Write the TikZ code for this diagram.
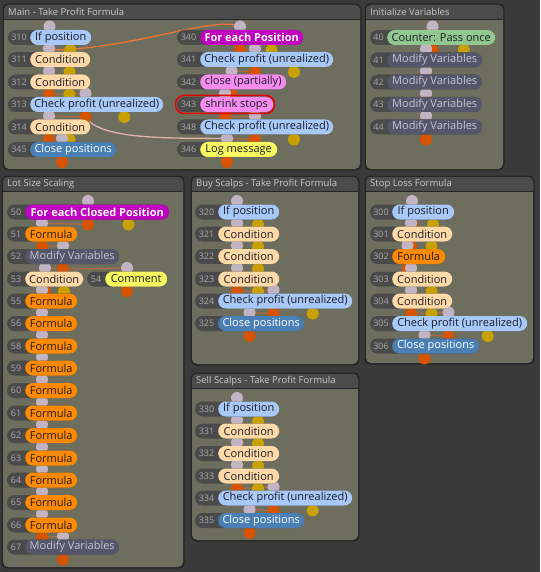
\documentclass[tikz,border=0pt]{standalone}
\usepackage{fontspec}
\setmainfont{Open Sans}
\pgfdeclarelayer{panel}
\pgfdeclarelayer{lines}
\pgfdeclarelayer{dots}
\pgfdeclarelayer{nump}
\pgfsetlayers{panel,lines,dots,nump,main}
\definecolor{bgc}{HTML}{3A3A3A}
\definecolor{panelc}{HTML}{6E6E5E}
\definecolor{headc}{HTML}{4B4B4B}
\definecolor{edgec}{HTML}{262626}
\definecolor{titlec}{HTML}{C8C8C8}
\definecolor{numfill}{HTML}{4A4A4A}
\definecolor{numtc}{HTML}{A8A8A8}
\definecolor{txtdark}{HTML}{1C1C26}
\definecolor{pblue}{HTML}{A8C8F8}
\definecolor{ppeach}{HTML}{FFD9A8}
\definecolor{pclose}{HTML}{4A7FB5}
\definecolor{pmag}{HTML}{C000C0}
\definecolor{ppink}{HTML}{F58CF0}
\definecolor{pyel}{HTML}{F8F860}
\definecolor{pgreen}{HTML}{90C890}
\definecolor{pslate}{HTML}{56566A}
\definecolor{slatetxt}{HTML}{C4C4D4}
\definecolor{porange}{HTML}{FF8A00}
\definecolor{inc}{HTML}{C2B4C4}
\definecolor{outc}{HTML}{D65400}
\definecolor{yelc}{HTML}{C8A000}
\definecolor{linkc}{HTML}{B06A44}
\definecolor{orangeline}{HTML}{EC7436}
\definecolor{paleline}{HTML}{E2B2A8}
\tikzset{
  pill/.style={rounded corners=7.5pt, minimum height=15pt, inner xsep=0pt, inner ysep=0pt,
    font=\fontsize{11}{12}\selectfont, text=txtdark, anchor=west},
  cblue/.style={fill=pblue},
  cpeach/.style={fill=ppeach},
  cclose/.style={fill=pclose, text=white},
  cmag/.style={fill=pmag, text=white, font=\fontsize{11}{12}\selectfont\bfseries},
  cpink/.style={fill=ppink},
  cyel/.style={fill=pyel},
  cgreen/.style={fill=pgreen},
  cslate/.style={fill=pslate, text=slatetxt},
  corange/.style={fill=porange},
  numtxt/.style={font=\fontsize{9}{10}\selectfont, text=numtc, inner sep=0pt},
  paneltitle/.style={font=\fontsize{9.5}{10}\selectfont, text=titlec, anchor=west, inner sep=0pt},
  link/.style={draw=linkc, line width=1.2pt},
}
% block: id, xL, xN, xR, y, number, style, text, outputs
\newcommand\blk[9]{%
  \pgfmathsetmacro\bc{(#2+#4)/2}%
  \pgfmathsetmacro\byl{#2+0.75*(#4-#2)}%
  \pgfmathsetmacro\bw{#4-#3}%
  \pgfmathsetmacro\bnx{(#2+#3)/2}%
  \coordinate (#1-i) at (\bc,#5-11);
  \coordinate (#1-o) at (\bc,#5+12.5);
  \coordinate (#1-y) at (\byl,#5+12.5);
  \begin{pgfonlayer}{dots}
    \fill[outc] (#1-o) circle (6pt);
    \ifnum#9>1 \fill[yelc] (#1-y) circle (6pt);\fi
    \fill[inc] (#1-i) circle (6pt);
  \end{pgfonlayer}
  \begin{pgfonlayer}{nump}
    \fill[numfill, rounded corners=7.5pt] (#2,#5-7.5) rectangle (#4,#5+7.5);
    \node[numtxt] (#1-n) at (\bnx,#5) {#6};
  \end{pgfonlayer}
  \node[pill,#7,minimum width=\bw pt] (#1) at (#3,#5) {#8};
}
% panel: x1,y1,x2,y2,title
\newcommand\panelbox[5]{%
  \begin{pgfonlayer}{panel}
    \fill[edgec, rounded corners=6pt] (#1-1.5,#2-1.5) rectangle (#3+1.5,#4+1.5);
    \fill[panelc, rounded corners=5pt] (#1,#2) rectangle (#3,#4);
    \fill[headc, rounded corners=5pt] (#1,#2) rectangle (#3,#2+14);
    \fill[headc] (#1,#2+7) rectangle (#3,#2+14);
    \draw[edgec, line width=0.8pt] (#1,#2+14) -- (#3,#2+14);
    \node[paneltitle] at (#1+4,#2+7.3) {#5};
  \end{pgfonlayer}
}
\begin{document}
\begin{tikzpicture}[x=1pt,y=-1pt]
\begin{pgfonlayer}{panel}
\fill[bgc] (0,0) rectangle (540,572);
\end{pgfonlayer}
\useasboundingbox (0,0) rectangle (540,572);

\panelbox{4}{5}{360}{169}{Main - Take Profit Formula}
\panelbox{366}{5}{503}{169}{Initialize Variables}
\panelbox{3}{177}{183}{567}{Lot Size Scaling}
\panelbox{192}{177}{358}{364}{Buy Scalps - Take Profit Formula}
\panelbox{366}{177}{533}{363}{Stop Loss Formula}
\panelbox{192}{374}{358}{540}{Sell Scalps - Take Profit Formula}

% Main - left column
\blk{b310}{8}{30}{91}{37.5}{310}{cblue}{If position}{2}
\blk{b311}{8}{30}{90}{59.5}{311}{cpeach}{Condition}{2}
\blk{b312}{8}{30}{90}{82}{312}{cpeach}{Condition}{2}
\blk{b313}{8}{30}{163}{104.5}{313}{cblue}{Check profit (unrealized)}{2}
\blk{b314}{8}{30}{90}{127}{314}{cpeach}{Condition}{2}
\blk{b345}{8}{30}{116}{149.5}{345}{cclose}{Close positions}{1}
% Main - right column
\blk{b340}{177}{200}{303}{37.5}{340}{cmag}{For each Position}{2}
\blk{b341}{177}{200}{333}{59.5}{341}{cblue}{Check profit (unrealized)}{2}
\blk{b342}{177}{200}{286}{82}{342}{cpink}{close (partially)}{1}
\blk{b343}{177}{200}{273}{104.5}{343}{cpink}{shrink stops}{1}
\blk{b348}{177}{200}{333}{127}{348}{cblue}{Check profit (unrealized)}{2}
\blk{b346}{177}{200}{277}{149.5}{346}{cyel}{Log message}{1}
\draw[red!90!black, line width=1.5pt, rounded corners=8.5pt] (175.5,95.5) rectangle (274.5,113.5);

% Initialize Variables
\blk{b40}{370}{387}{495}{37.5}{40}{cgreen}{Counter: Pass once}{2}
\blk{b41}{370}{387}{482}{60}{41}{cslate}{Modify Variables}{1}
\blk{b42}{370}{387}{482}{82}{42}{cslate}{Modify Variables}{1}
\blk{b43}{370}{387}{482}{104.5}{43}{cslate}{Modify Variables}{1}
\blk{b44}{370}{387}{482}{127}{44}{cslate}{Modify Variables}{1}

% Lot Size Scaling
\blk{b50}{7}{25}{169}{212}{50}{cmag}{For each Closed Position}{2}
\blk{b51}{7}{25}{77}{234}{51}{corange}{Formula}{1}
\blk{b52}{7}{25}{119}{256.5}{52}{cslate}{Modify Variables}{1}
\blk{b53}{7}{25}{83}{279}{53}{cpeach}{Condition}{2}
\blk{b54}{87}{105}{167}{279}{54}{cyel}{Comment}{1}
\blk{b55}{7}{25}{77}{301}{55}{corange}{Formula}{1}
\blk{b56}{7}{25}{77}{323.5}{56}{corange}{Formula}{1}
\blk{b58}{7}{25}{77}{346}{58}{corange}{Formula}{1}
\blk{b59}{7}{25}{77}{368}{59}{corange}{Formula}{1}
\blk{b60}{7}{25}{77}{390.5}{60}{corange}{Formula}{1}
\blk{b61}{7}{25}{77}{413}{61}{corange}{Formula}{1}
\blk{b62}{7}{25}{77}{435.5}{62}{corange}{Formula}{1}
\blk{b63}{7}{25}{77}{458}{63}{corange}{Formula}{1}
\blk{b64}{7}{25}{77}{480}{64}{corange}{Formula}{1}
\blk{b65}{7}{25}{77}{502.5}{65}{corange}{Formula}{1}
\blk{b66}{7}{25}{77}{525}{66}{corange}{Formula}{1}
\blk{b67}{7}{25}{119}{547}{67}{cslate}{Modify Variables}{1}

% Buy Scalps
\blk{b320}{195}{218}{279}{212}{320}{cblue}{If position}{2}
\blk{b321}{195}{218}{279}{234}{321}{cpeach}{Condition}{2}
\blk{b322}{195}{218}{279}{256.5}{322}{cpeach}{Condition}{2}
\blk{b323}{195}{218}{279}{279}{323}{cpeach}{Condition}{2}
\blk{b324}{195}{218}{352}{301}{324}{cblue}{Check profit (unrealized)}{2}
\blk{b325}{195}{218}{304}{323.5}{325}{cclose}{Close positions}{1}

% Stop Loss
\blk{b300}{370}{392}{454}{212}{300}{cblue}{If position}{2}
\blk{b301}{370}{392}{452}{234}{301}{cpeach}{Condition}{2}
\blk{b302}{370}{392}{445}{256.5}{302}{corange}{Formula}{1}
\blk{b303}{370}{392}{452}{279}{303}{cpeach}{Condition}{2}
\blk{b304}{370}{392}{452}{301}{304}{cpeach}{Condition}{2}
\blk{b305}{370}{392}{527}{323.5}{305}{cblue}{Check profit (unrealized)}{2}
\blk{b306}{370}{392}{479}{346}{306}{cclose}{Close positions}{1}

% Sell Scalps
\blk{b330}{195}{218}{279}{409}{330}{cblue}{If position}{2}
\blk{b331}{195}{218}{279}{431}{331}{cpeach}{Condition}{2}
\blk{b332}{195}{218}{279}{453.5}{332}{cpeach}{Condition}{2}
\blk{b333}{195}{218}{279}{476}{333}{cpeach}{Condition}{2}
\blk{b334}{195}{218}{352}{498}{334}{cblue}{Check profit (unrealized)}{2}
\blk{b335}{195}{218}{304}{520.5}{335}{cclose}{Close positions}{1}

% connectors
\begin{pgfonlayer}{lines}
\foreach \a/\b in {b310/b311,b311/b312,b312/b313,b313/b314,b314/b345,
  b340/b341,b341/b342,b342/b343,b343/b348,b348/b346,
  b40/b41,b41/b42,b42/b43,b43/b44,
  b50/b51,b51/b52,b52/b53,b52/b54,b53/b55,b55/b56,b56/b58,b58/b59,b59/b60,
  b60/b61,b61/b62,b62/b63,b63/b64,b64/b65,b65/b66,b66/b67,
  b320/b321,b321/b322,b322/b323,b323/b324,b324/b325,
  b300/b301,b301/b302,b302/b303,b303/b304,b304/b305,b305/b306,
  b330/b331,b331/b332,b332/b333,b333/b334,b334/b335}
  \draw[link] (\a-o) -- (\b-i);
\draw[orangeline, line width=1.3pt] (b310-o) .. controls (130,50) and (215,15) .. (b340-i);
\draw[paleline, line width=1.3pt] (b313-o) .. controls (100,140) and (170,138) .. (b346-i);
\end{pgfonlayer}
\end{tikzpicture}
\end{document}
